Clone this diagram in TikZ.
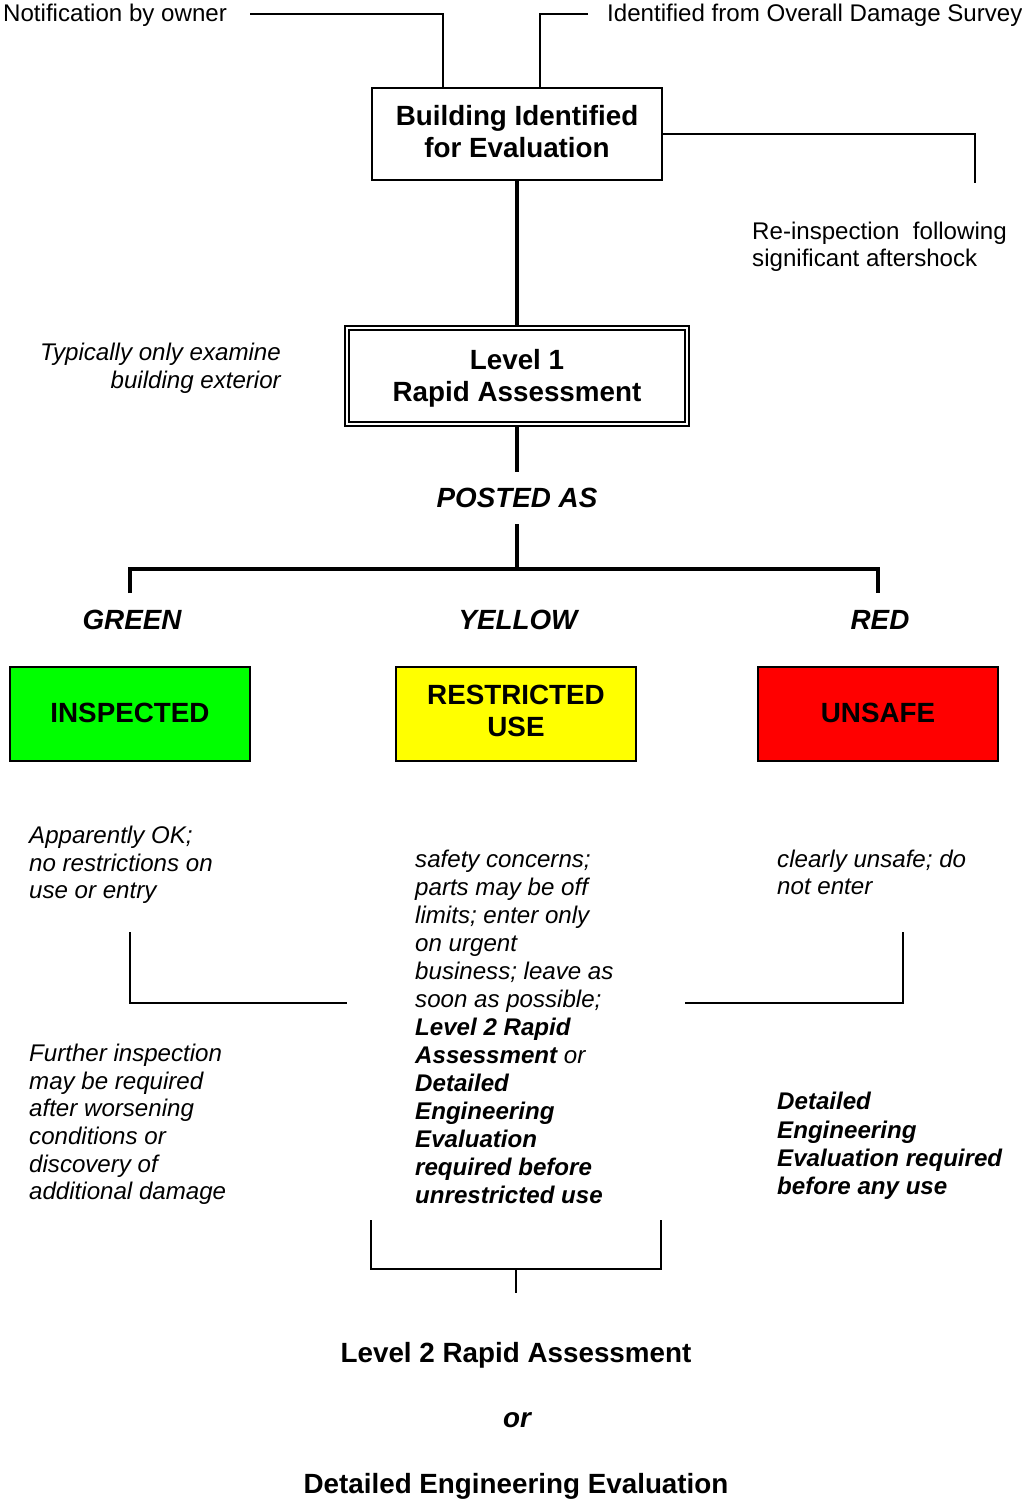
\documentclass[tikz,border=0pt]{standalone}
\usepackage{fontspec}
\setmainfont{Liberation Sans}
\definecolor{postgreen}{RGB}{0,255,0}
\definecolor{postyellow}{RGB}{255,255,0}
\definecolor{postred}{RGB}{255,0,0}
\begin{document}
\begin{tikzpicture}[x=1pt,y=-1pt,
  thinline/.style={line width=1.6pt},
  thickline/.style={line width=3.2pt},
  plain/.style={font=\fontsize{24.1}{27.6}\selectfont, inner sep=0pt},
  note/.style={font=\fontsize{24.1}{27.6}\selectfont\itshape, inner sep=0pt, align=left},
  head/.style={font=\fontsize{27.8}{32}\selectfont\bfseries, inner sep=0pt, align=center},
  tag/.style={font=\fontsize{27.8}{32}\selectfont\bfseries\itshape, inner sep=0pt},
  framebox/.style={draw, line width=1.6pt, head, text depth=6pt},
  status/.style={draw, line width=1.8pt, head, text depth=2pt,
    minimum width=240.2pt, minimum height=94.2pt}
]
% page
\fill[white] (0,0) rectangle (1022,1501);
\useasboundingbox (0,0) rectangle (1022,1501);

% sources of a building evaluation
\node[plain, anchor=base west] (notif) at (3,22) {Notification by owner};
\node[plain, anchor=base west] (survey) at (607,22) {Identified from Overall Damage Survey};
\node[note, anchor=north west, font=\fontsize{24.1}{27.6}\selectfont\upshape] (reinsp) at (752,221.7)
  {Re-inspection\ \ following\\significant aftershock};

% main boxes
\node[framebox, minimum width=290.4pt, minimum height=92.4pt] (bldg) at (517,134)
  {Building Identified\\for Evaluation};
\node[draw, double, line width=1.6pt, double distance=2.4pt, head, text depth=2pt,
  minimum width=340.4pt, minimum height=96.4pt] (lvl1) at (517,376)
  {Level 1\\Rapid Assessment};
\node[note, anchor=north east, align=right] (typ) at (281,342.8)
  {Typically only examine\\building exterior};

\node[tag, inner ysep=16pt] (posted) at (517,498) {POSTED AS};

% posting categories
\node[tag] (green) at (132,620) {GREEN};
\node[tag] (yellow) at (518,620) {YELLOW};
\node[tag] (red) at (880,620) {RED};

\node[status, fill=postgreen] (insp) at (130,714) {INSPECTED};
\node[status, fill=postyellow, text depth=6pt] (restr) at (516,714) {RESTRICTED\\USE};
\node[status, fill=postred] (unsafe) at (878,714) {UNSAFE};

% descriptions
\node[note, anchor=north west] (okdesc) at (29,826)
  {Apparently OK;\\no restrictions on\\use or entry};
\node[note, anchor=north west] (further) at (29,1044)
  {Further inspection\\may be required\\after worsening\\conditions or\\discovery of\\additional damage};
\node[note, anchor=north west, font=\fontsize{24.1}{28}\selectfont\itshape] (middesc) at (415,849.7)
  {safety concerns;\\parts may be off\\limits; enter only\\on urgent\\business; leave as\\soon as possible;\\
   \textbf{Level 2 Rapid}\\\textbf{Assessment} or\\\textbf{Detailed}\\\textbf{Engineering}\\
   \textbf{Evaluation}\\\textbf{required before}\\\textbf{unrestricted use}};
\node[note, anchor=north west] (unsafedesc) at (777,849.7)
  {clearly unsafe; do\\not enter};
\node[note, anchor=north west, font=\fontsize{24.1}{28.4}\selectfont\bfseries\itshape] (detreq) at (777,1092)
  {Detailed\\Engineering\\Evaluation required\\before any use};

% follow-up evaluation
\node[head, anchor=base] (lvl2) at (516,1362) {Level 2 Rapid Assessment};
\node[tag, anchor=base] (orword) at (517,1427) {or};
\node[head, anchor=base] (dee) at (516,1493) {Detailed Engineering Evaluation};

% connector end points
\coordinate (n1) at (250,14);
\coordinate (s1) at (588,14);
\coordinate (ra) at (975,183);
\coordinate (hub) at (517,569);
\coordinate (gt) at (130,593);
\coordinate (rt) at (878,593);
\coordinate (la) at (130,932);
\coordinate (lb) at (347,1003);
\coordinate (rc) at (903,932);
\coordinate (rd) at (685,1003);
\coordinate (ba) at (371,1220);
\coordinate (bm) at (516,1269);
\coordinate (bb) at (661,1220);
\coordinate (bc) at (516,1293);

% connectors
\draw[thinline] (n1) -| (443,0 |- bldg.north);
\draw[thinline] (s1) -| (540,0 |- bldg.north);
\draw[thinline] (bldg.east) -| (ra);
\draw[thickline] (bldg) -- (lvl1);
\draw[thickline] (lvl1) -- (posted);
\draw[thickline] (posted) -- (hub);
\draw[thickline] (gt) |- (hub) -| (rt);
\draw[thinline] (la) |- (lb);
\draw[thinline] (rc) |- (rd);
\draw[thinline] (ba) |- (bm) -| (bb);
\draw[thinline] (bm) -- (bc);
\end{tikzpicture}
\end{document}
